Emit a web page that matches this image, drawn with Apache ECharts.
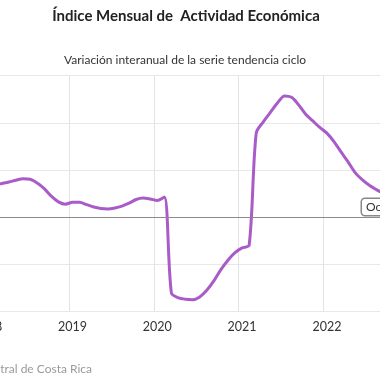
<!DOCTYPE html>
<html>
<head>
<meta charset="utf-8">
<script src="https://cdn.jsdelivr.net/npm/echarts@6/dist/echarts.min.js"></script>
<style>
html,body{margin:0;padding:0;width:380px;height:380px;overflow:hidden;background:#fff;}
#chart{position:absolute;left:-100px;top:0;width:600px;height:380px;}
</style>
</head>
<body>
<div id="chart"></div>
<script>
// Data (year-over-year % change of the trend-cycle series, monthly)
var years = [2018, 2019, 2020, 2021, 2022];
var lastMonth2022 = 10;
var values2018 = [3.2, 3.4, 3.55, 3.7, 3.9, 4.05, 4.0, 3.6, 3.0, 2.2, 1.6, 1.35];
var values2019 = [1.55, 1.55, 1.3, 1.05, 0.9, 0.85, 0.95, 1.15, 1.45, 1.85, 2.0, 1.9];
var values2020 = [1.75, 2.1, -8.1, -8.6, -8.75, -8.8, -8.5, -7.8, -6.8, -5.6, -4.6, -3.8];
var values2021 = [-3.3, -3.0, 8.9, 10.1, 11.1, 12.1, 12.85, 12.7, 11.9, 10.9, 10.2, 9.5];
var values2022 = [8.9, 8.0, 6.9, 5.85, 4.7, 3.95, 3.35, 2.9, 2.5, 2.2];
var yTicks = [-10, -5, 0, 5, 10, 15];

var titleText = 'Índice Mensual de  Actividad Económica';
var subtitleText = 'Variación interanual de la serie tendencia ciclo';
var sourceText = 'Fuente: Banco Central de Costa Rica';
var boxText = 'Oct 2022';

var categories = [];
years.forEach(function (y) {
  var n = (y === 2022) ? lastMonth2022 : 12;
  for (var m = 1; m <= n; m++) {
    categories.push(y + '-' + (m < 10 ? '0' + m : m));
  }
});
var values = [].concat(values2018, values2019, values2020, values2021, values2022);

var isJan = function (i, v) { return String(v).slice(5) === '01'; };

var fontFam = 'Lato, "DejaVu Sans", sans-serif';
var c2d = document.createElement('canvas').getContext('2d');
c2d.font = '12px ' + fontFam;
var srcW = c2d.measureText(sourceText).width;

var chart = echarts.init(document.getElementById('chart'), null, {renderer: 'canvas'});
chart.setOption({
  animation: false,
  textStyle: {fontFamily: fontFam},
  title: [
    {text: titleText, left: 281, top: 4, textAlign: 'center',
     textStyle: {fontFamily: fontFam, fontSize: 15, fontWeight: 'bold', color: '#222'}},
    {text: subtitleText, left: 280, top: 49, textAlign: 'center',
     textStyle: {fontFamily: fontFam, fontSize: 12, fontWeight: 'normal', color: '#333'}}
  ],
  grid: {left: 84.2, top: 75.7, width: 409.8, height: 235.3, containLabel: false},
  xAxis: {
    type: 'category',
    data: categories,
    boundaryGap: true,
    axisLine: {show: true, lineStyle: {color: '#e3e3e3'}},
    axisTick: {show: false},
    axisLabel: {interval: isJan, formatter: function (v) { return v.slice(0, 4); },
                color: '#333', fontSize: 12.5, margin: 9, fontFamily: fontFam},
    splitLine: {show: true, interval: isJan, lineStyle: {color: '#e3e3e3', width: 1}}
  },
  yAxis: {
    type: 'value',
    min: yTicks[0], max: yTicks[yTicks.length - 1], interval: 5,
    axisLine: {show: false},
    axisTick: {show: false},
    axisLabel: {color: '#333', fontSize: 12},
    splitLine: {lineStyle: {color: '#e8e8e8', width: 1}}
  },
  series: [{
    type: 'line',
    data: values,
    smooth: 0.3,
    showSymbol: false,
    lineStyle: {color: '#a95bc7', width: 3},
    itemStyle: {color: '#a95bc7'},
    markLine: {
      silent: true, symbol: 'none', label: {show: false},
      lineStyle: {color: '#8a8a8a', type: 'solid', width: 1},
      data: [{yAxis: 0}]
    }
  }],
  graphic: [
    {type: 'text', left: 192 - srcW, top: 363, z: 10,
     style: {text: sourceText, fill: '#9a9a9a', font: '12px ' + fontFam}},
    {type: 'text', x: 462, y: 199, z: 20,
     style: {text: boxText, fill: '#333', font: '12px ' + fontFam,
             backgroundColor: '#fff', borderColor: '#888', borderWidth: 1.5, borderRadius: 3,
             padding: [2, 4, 2, 4]}}
  ]
});
</script>
</body>
</html>
